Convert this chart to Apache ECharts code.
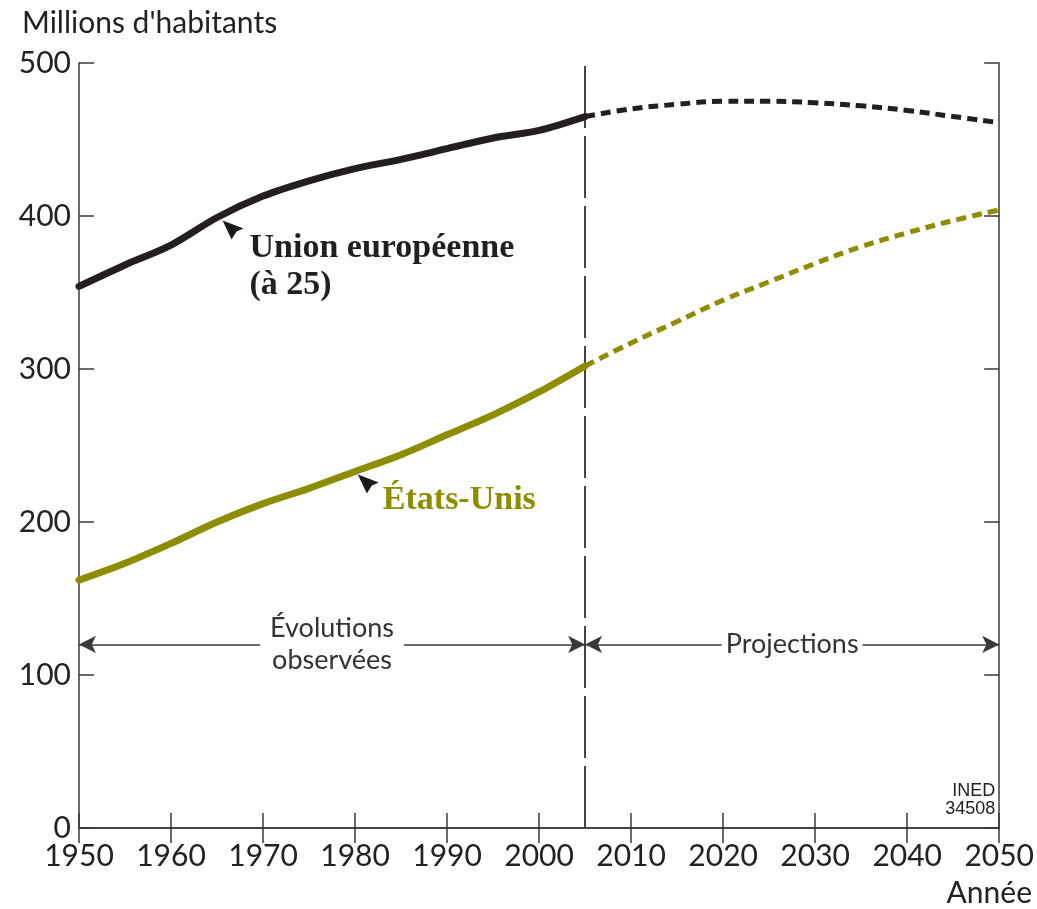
<!DOCTYPE html>
<html>
<head>
<meta charset="utf-8">
<script src="https://cdn.jsdelivr.net/npm/echarts@6/dist/echarts.min.js"></script>
<style>
  html, body { margin: 0; padding: 0; background: #fff; }
  #chart { width: 1037px; height: 909px; }
</style>
</head>
<body>
<div id="chart"></div>
<script>
// Population in millions, observed and projected
const observedYears = [1950, 1955, 1960, 1965, 1970, 1975, 1980, 1985, 1990, 1995, 2000, 2005];
const euObserved    = [354, 368, 381, 399, 413, 423, 431, 437, 444, 451, 456, 465];
const usObserved    = [162, 173, 186, 200, 212, 222, 233, 244, 257, 270, 285, 302];

const projectionYears = [2005, 2010, 2015, 2020, 2025, 2030, 2035, 2040, 2045, 2050];
const euProjected     = [465, 470, 473, 475, 475, 474, 472, 469, 465, 461];
const usProjected     = [302, 317, 331, 345, 357, 369, 380, 389, 397, 404];

const xTicks = [1950, 1960, 1970, 1980, 1990, 2000, 2010, 2020, 2030, 2040, 2050];
const yTicks = [0, 100, 200, 300, 400, 500];

const splitYear = 2005;
const periodArrowLevel = 120;
const periodLabels = ['Évolutions\nobservées', 'Projections'];
const seriesNames = ['Union européenne\n(à 25)', 'États-Unis'];

const EU_COLOR = '#231f20';
const US_COLOR = '#8e8d00';
const AXIS_COLOR = '#3a3a3a';
const SANS = 'Lato, "Noto Sans", sans-serif';
const SERIF = '"Liberation Serif", "DejaVu Serif", serif';

const zip = (xs, ys) => xs.map((x, i) => [x, ys[i]]);

const chart = echarts.init(document.getElementById('chart'), null, { renderer: 'canvas' });

const axisBase = {
  type: 'value',
  axisLine: { show: true, lineStyle: { color: AXIS_COLOR, width: 1.5 } },
  axisTick: { show: true, inside: true, length: 15, lineStyle: { color: AXIS_COLOR, width: 1.5 } },
  splitLine: { show: false }
};

const option = {
  animation: false,
  backgroundColor: '#fff',
  grid: { left: 79, right: 35, top: 63, bottom: 81, containLabel: false },
  xAxis: [
    Object.assign({}, axisBase, {
      position: 'bottom', min: xTicks[0], max: xTicks[xTicks.length - 1], interval: 10,
      axisLabel: { show: true, margin: 13, color: '#222', fontSize: 30, fontFamily: SANS,
                   formatter: v => String(v) }
    }),
    Object.assign({}, axisBase, {
      position: 'top', min: xTicks[0], max: xTicks[xTicks.length - 1], interval: 10,
      axisLabel: { show: false }
    })
  ],
  yAxis: [
    Object.assign({}, axisBase, {
      position: 'left', min: yTicks[0], max: yTicks[yTicks.length - 1], interval: 100,
      axisLabel: { show: true, margin: 8, color: '#222', fontSize: 30, fontFamily: SANS }
    }),
    Object.assign({}, axisBase, {
      position: 'right', min: yTicks[0], max: yTicks[yTicks.length - 1], interval: 100,
      axisLabel: { show: false }
    })
  ],
  series: [
    {
      name: 'UE observée', type: 'line', data: zip(observedYears, euObserved),
      smooth: 0.3, symbol: 'none', lineStyle: { color: EU_COLOR, width: 7, cap: 'round' },
      z: 5
    },
    {
      name: 'UE projetée', type: 'line', data: zip(projectionYears, euProjected),
      smooth: 0.4, symbol: 'none', lineStyle: { color: EU_COLOR, width: 5, type: [10, 6] },
      z: 5
    },
    {
      name: 'USA observés', type: 'line', data: zip(observedYears, usObserved),
      smooth: 0.3, symbol: 'none', lineStyle: { color: US_COLOR, width: 7, cap: 'round' },
      z: 5
    },
    {
      name: 'USA projetés', type: 'line', data: zip(projectionYears, usProjected),
      smooth: 0.4, symbol: 'none', lineStyle: { color: US_COLOR, width: 5, type: [10, 6] },
      z: 5
    },
    {
      // Reference lines: split between observed and projected periods, with period arrows
      name: 'périodes', type: 'line', data: [], z: 3,
      markLine: {
        silent: true,
        animation: false,
        data: [
          [
            { coord: [splitYear, yTicks[0]], symbol: 'none', lineStyle: { color: '#444', width: 2, type: [62, 8] }, label: { show: false } },
            { coord: [splitYear, yTicks[yTicks.length - 1]], symbol: 'none' }
          ],
          [
            { coord: [xTicks[0], periodArrowLevel], symbol: 'arrow', symbolSize: [13, 17],
              lineStyle: { color: AXIS_COLOR, width: 1.5, type: 'solid' },
              label: { show: true, position: 'insideMiddle', distance: 0, formatter: periodLabels[0],
                       color: '#333', fontSize: 27, fontFamily: SANS, lineHeight: 32,
                       backgroundColor: '#fff', padding: [0, 10] } },
            { coord: [splitYear, periodArrowLevel], symbol: 'arrow', symbolSize: [13, 17] }
          ],
          [
            { coord: [splitYear, periodArrowLevel], symbol: 'arrow', symbolSize: [13, 17],
              lineStyle: { color: AXIS_COLOR, width: 1.5, type: 'solid' },
              label: { show: true, position: 'insideMiddle', distance: 0, formatter: periodLabels[1],
                       color: '#333', fontSize: 27, fontFamily: SANS,
                       backgroundColor: '#fff', padding: [0, 4] } },
            { coord: [xTicks[xTicks.length - 1], periodArrowLevel], symbol: 'arrow', symbolSize: [13, 17] }
          ]
        ]
      }
    }
  ]
};

chart.setOption(option);

// Annotations: pointer arrowheads and series labels anchored to the curves
function pointer(tip) {
  return {
    type: 'polygon', z: 10, silent: true,
    shape: { points: [[tip[0], tip[1]], [tip[0] + 21, tip[1] + 8], [tip[0] + 14, tip[1] + 11], [tip[0] + 9, tip[1] + 19]] },
    style: { fill: '#1a1a1a' }
  };
}

const euTip = chart.convertToPixel({ gridIndex: 0 }, [1965.6, 397]);
const usTip = chart.convertToPixel({ gridIndex: 0 }, [1980.3, 231]);
const plotTopLeft = chart.convertToPixel({ gridIndex: 0 }, [xTicks[0], yTicks[yTicks.length - 1]]);
const plotBottomRight = chart.convertToPixel({ gridIndex: 0 }, [xTicks[xTicks.length - 1], yTicks[0]]);

chart.setOption({
  graphic: [
    pointer(euTip),
    pointer(usTip),
    {
      type: 'text', z: 10, silent: true,
      x: euTip[0] + 27, y: euTip[1] + 9,
      style: { text: seriesNames[0], fill: EU_COLOR, font: 'bold 34px ' + SERIF, lineHeight: 37,
               textAlign: 'left', textVerticalAlign: 'top' }
    },
    {
      type: 'text', z: 10, silent: true,
      x: usTip[0] + 25, y: usTip[1] + 9,
      style: { text: seriesNames[1], fill: US_COLOR, font: 'bold 34px ' + SERIF,
               textAlign: 'left', textVerticalAlign: 'top' }
    },
    {
      type: 'text', silent: true,
      x: 22, y: plotTopLeft[1] - 55,
      style: { text: "Millions d'habitants", fill: '#222', font: '30px ' + SANS,
               textAlign: 'left', textVerticalAlign: 'top' }
    },
    {
      type: 'text', silent: true,
      x: 1032, y: plotBottomRight[1] + 50,
      style: { text: 'Année', fill: '#222', font: '30px ' + SANS,
               textAlign: 'right', textVerticalAlign: 'top' }
    },
    {
      type: 'text', silent: true,
      x: plotBottomRight[0] - 4, y: plotBottomRight[1] - 46,
      style: { text: 'INED\n34508', fill: '#222', font: '18px "Liberation Sans Narrow", "Liberation Sans", sans-serif',
               lineHeight: 18, textAlign: 'right', textVerticalAlign: 'top' }
    }
  ]
});
</script>
</body>
</html>
